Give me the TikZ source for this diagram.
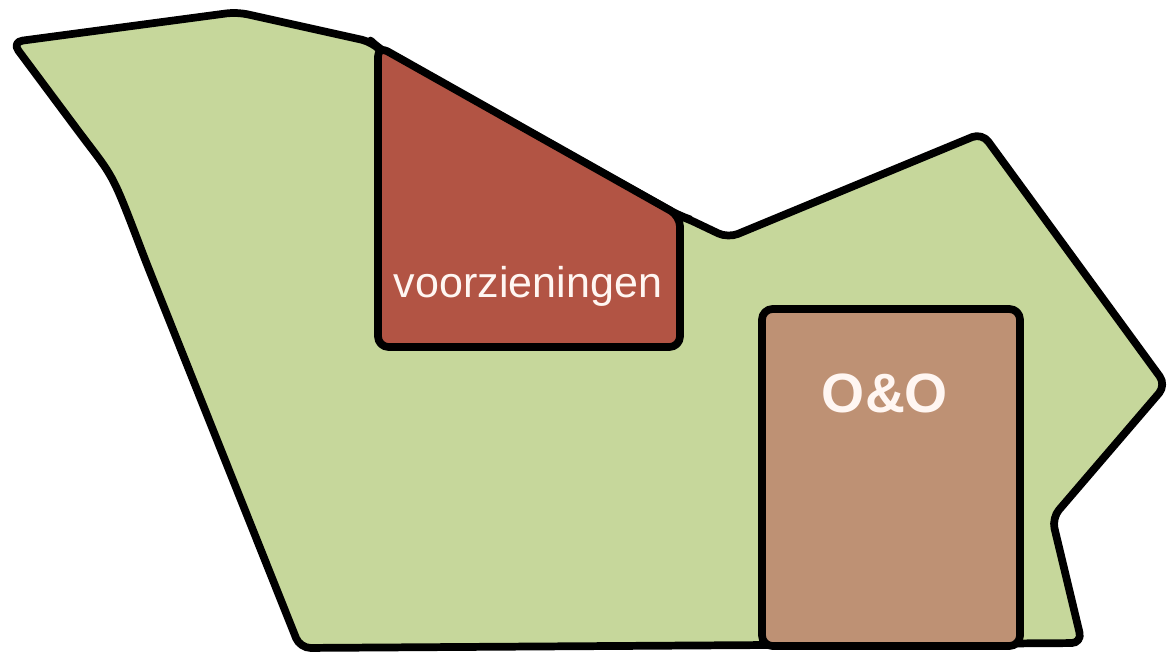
\documentclass[tikz,border=0pt]{standalone}
\usepackage{fontspec}
\setmainfont{Liberation Sans}
\usepackage{tikz}
\definecolor{veld}{RGB}{198,215,155}
\definecolor{rood}{RGB}{178,84,68}
\definecolor{bruin}{RGB}{190,145,116}
\definecolor{licht}{RGB}{255,246,242}

\begin{document}
\begin{tikzpicture}[x=0.02cm, y=-0.02cm,
  zone/.style={draw=black, line width=4.4pt, line join=round, rounded corners=6pt},
  label/.style={text=licht, inner sep=0pt}]
\useasboundingbox (0,0) rectangle (1172,656);
% plangebied
\draw[zone, fill=veld] (12,42) -- (237,12) -- (372,42) -- (378,48) -- (680,216)
  -- (686,218) -- (728,238) -- (982,133) -- (1166,385) -- (1052,518)
  -- (1082,643) -- (300,648) -- (146,262) .. controls (114,178) .. (82,136) -- cycle;
%
\draw[zone, fill=rood] (378,46) -- (378,347) -- (680,347) -- (680,216) -- cycle;
\draw[zone, fill=bruin] (762,309) rectangle (1020,646);
%
\node[label, font=\fontsize{24.5}{28}\selectfont] (voorz) at (528,286) {voorzieningen};
\node[label, font=\bfseries\fontsize{31.5}{36}\selectfont] (oeno) at (885,393) {O\&O};
\end{tikzpicture}
\end{document}
